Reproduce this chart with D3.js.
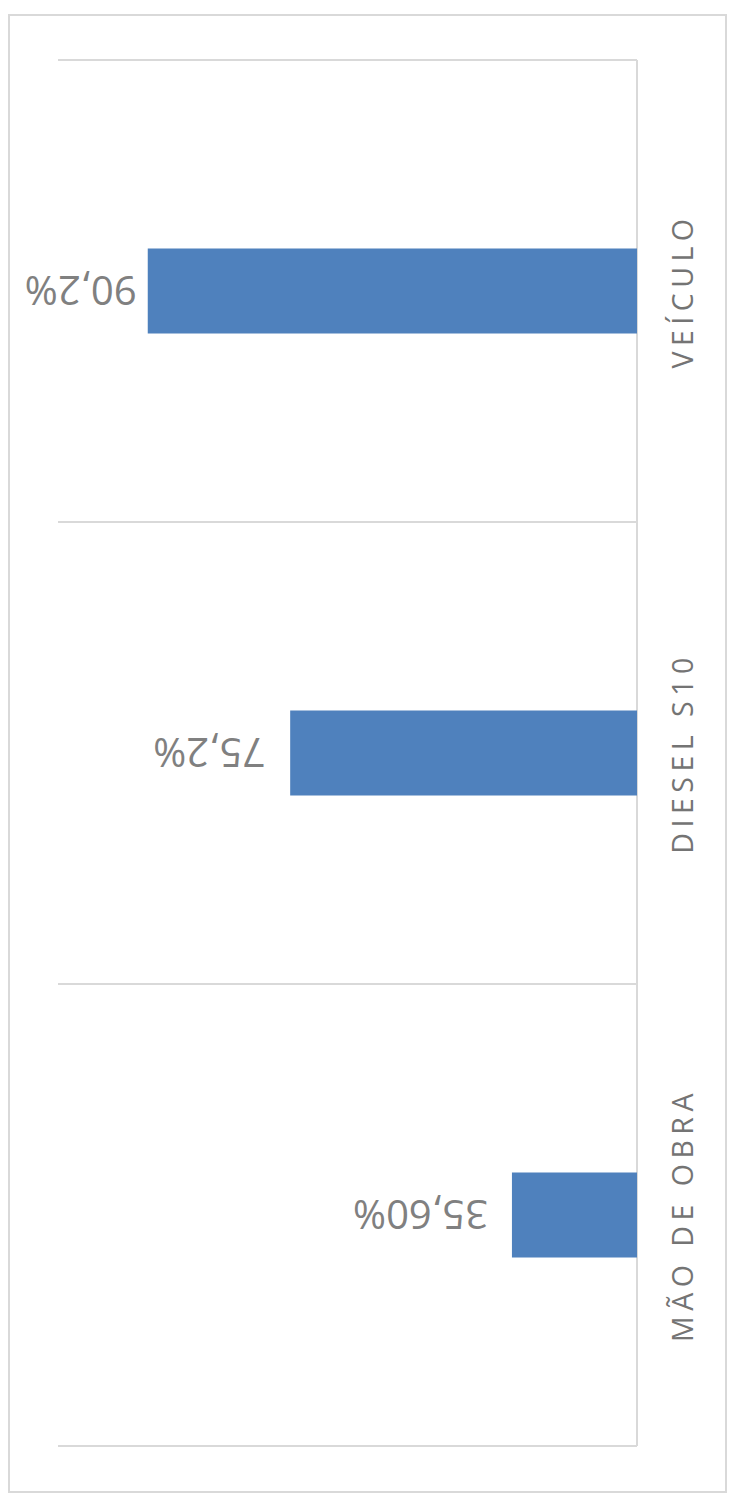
<!DOCTYPE html>
<html>
<head>
<meta charset="utf-8">
<script src="https://cdn.jsdelivr.net/npm/d3@7"></script>
<style>
  html, body { margin: 0; padding: 0; background: #fff; }
  svg { display: block; }
</style>
</head>
<body>
<div id="chart"></div>
<script>
// categories top to bottom, as drawn
const categories = ['VEÍCULO', 'DIESEL S10', 'MÃO DE OBRA'];
// bar lengths (axis 0..100)
const values = [84.5, 59.9, 21.6];
// labels as printed next to the bars
const valueLabels = ['90,2%', '75,2%', '35,60%'];

const W = 733, H = 1501;
const plot = { left: 58, right: 637, top: 60, bottom: 1446 };
// gap between bar end and its label (not the same for each one)
const labelGap = [11, 25, 24];

const svg = d3.select('#chart').append('svg')
  .attr('width', W).attr('height', H);

// outer frame
svg.append('rect')
  .attr('x', 9).attr('y', 15).attr('width', 717).attr('height', 1477)
  .attr('fill', '#fff').attr('stroke', '#d9d9d9').attr('stroke-width', 2);

// bars grow leftwards from the axis on the right
const x = d3.scaleLinear().domain([0, 100]).range([plot.right, plot.left]);
const y = d3.scaleBand().domain(categories)
  .range([plot.top, plot.bottom])
  .paddingInner(0.816).paddingOuter(0.408);

const step = y.step();
const sep = d3.range(categories.length + 1).map(i => plot.top + i * step);

// separator lines between categories
svg.append('g').selectAll('line').data(sep).enter().append('line')
  .attr('x1', plot.left).attr('x2', plot.right)
  .attr('y1', d => d).attr('y2', d => d)
  .attr('stroke', '#d9d9d9').attr('stroke-width', 2);

// category axis line
svg.append('line')
  .attr('x1', plot.right).attr('x2', plot.right)
  .attr('y1', plot.top).attr('y2', plot.bottom)
  .attr('stroke', '#d9d9d9').attr('stroke-width', 2);

// bars
svg.append('g').selectAll('rect').data(values).enter().append('rect')
  .attr('x', d => x(d))
  .attr('y', (d, i) => y(categories[i]))
  .attr('width', d => plot.right - x(d))
  .attr('height', y.bandwidth())
  .attr('fill', '#4f81bd');

// value labels, upside down
svg.append('g').selectAll('text').data(values).enter().append('text')
  .attr('transform', (d, i) => {
    const tx = x(d) - labelGap[i];
    const ty = y(categories[i]) + y.bandwidth() / 2;
    return 'translate(' + tx + ',' + ty + ') rotate(180)';
  })
  .attr('text-anchor', 'start')
  .attr('dominant-baseline', 'central')
  .style('font-family', '"Open Sans", sans-serif')
  .style('font-size', '40px')
  .style('fill', '#808080')
  .text((d, i) => valueLabels[i]);

// category labels, reading bottom to top
svg.append('g').selectAll('text').data(categories).enter().append('text')
  .attr('transform', d => 'translate(682,' + (y(d) + y.bandwidth() / 2) + ') rotate(-90)')
  .attr('text-anchor', 'middle')
  .attr('dominant-baseline', 'central')
  .style('font-family', '"Open Sans", sans-serif')
  .style('font-size', '28.5px')
  .style('letter-spacing', '5.5px')
  .style('fill', '#747474')
  .text(d => d);
</script>
</body>
</html>
